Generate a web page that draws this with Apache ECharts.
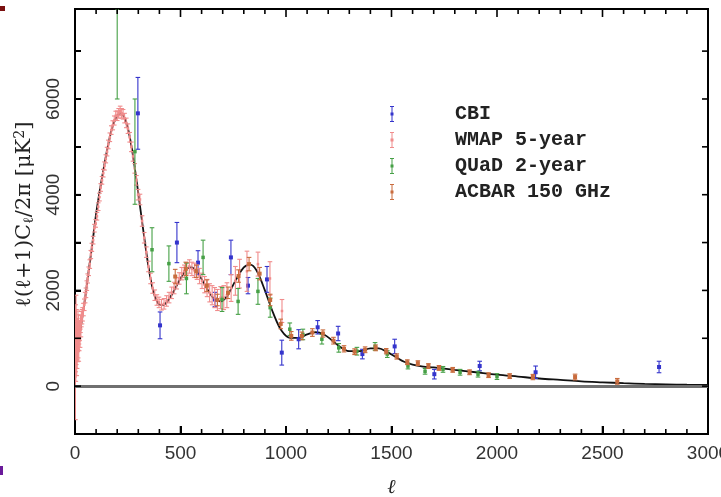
<!DOCTYPE html>
<html><head><meta charset="utf-8">
<script src="https://cdn.jsdelivr.net/npm/echarts@6/dist/echarts.min.js"></script>
<style>html,body{margin:0;padding:0;background:#fff}#c{width:721px;height:497px}</style>
</head><body><div id="c"></div>
<script>
// ---- tick labels ----
const xTicks = [0, 500, 1000, 1500, 2000, 2500, 3000];
const yTicks = [0, 2000, 4000, 6000];
// tick mark positions (major / minor)
const xMajorTicks = [0, 500, 1000, 1500, 2000, 2500, 3000];
const xMinorTicks = [100,200,300,400,600,700,800,900,1100,1200,1300,1400,1600,1700,1800,1900,2100,2200,2300,2400,2600,2700,2800,2900];
const yTickMarks = [-1000, 0, 1000, 2000, 3000, 4000, 5000, 6000, 7000];

// ---- theory curve ----
const theoryL = [2,10,20,30,40,50,60,70,80,90,100,120,140,160,180,200,215,230,250,270,290,310,330,350,370,390,410,430,460,500,530,550,580,620,660,690,720,760,800,830,860,900,940,980,1020,1060,1100,1140,1180,1220,1260,1300,1350,1400,1440,1480,1520,1560,1600,1650,1700,1800,1900,2000,2100,2200,2300,2400,2500,2600,2700,2800,2900,3000];
const theoryV = [1050,950,1050,1300,1600,1900,2250,2580,2900,3250,3600,4150,4650,5100,5450,5650,5700,5650,5400,4950,4350,3700,3050,2450,2000,1760,1690,1730,1920,2250,2450,2480,2380,2080,1820,1770,1880,2200,2480,2540,2420,2000,1520,1150,1010,1010,1080,1130,1080,950,810,730,730,790,790,710,610,510,450,410,390,340,290,240,200,160,130,100,80,62,48,38,30,24];

// ---- CBI ----
const cbiL = [298,403,483,583,663,739,820,910,980,1060,1150,1247,1362,1515,1703,1918,2183,2768];
const cbiV = [5700,1270,3000,2580,1810,2690,2100,2230,700,980,1230,1100,670,830,250,420,290,400];
const cbiE = [750,280,420,250,150,360,170,270,260,200,140,150,100,150,100,100,130,120];

// ---- WMAP 5-year ----
const wmapL = [2,3,4,5,6,7,8,9,10,11,12,13,14,15,16,17,18,19,20,22,24,26,28,30,33,36,40,44,48,52,56,60,65,70,75,80,86,92,98,104,110,116,122,128,134,140,146,152,158,165,172,179,186,193,200,207,214,221,228,235,243,251,259,267,275,283,291,299,308,318,328,338,348,358,368,378,388,398,410,422,434,446,458,470,482,494,506,518,530,542,554,566,578,590,602,614,626,638,650,662,675,690,705,720,740,760,780,815,867,924,981];
const wmapV = [200,1000,700,1400,900,1200,600,900,700,1100,800,1000,1300,850,1000,1250,750,1100,950,1150,1000,1300,1200,1400,1450,1500,1600,1700,1850,1950,2100,2250,2400,2550,2750,2900,3050,3300,3400,3550,3750,3950,4150,4300,4450,4600,4750,4900,5050,5200,5350,5450,5550,5650,5650,5700,5750,5700,5680,5600,5500,5380,5200,5000,4800,4550,4300,4000,3900,3450,3100,2800,2500,2250,2050,1900,1800,1750,1700,1720,1780,1850,1950,2050,2150,2250,2350,2400,2450,2500,2450,2420,2380,2300,2200,2120,2050,1950,1900,1850,1800,1850,1850,1900,2050,2200,2350,2400,2550,2250,1570];
const wmapE = [900,700,600,500,450,400,380,350,330,310,290,280,270,260,250,240,230,220,210,200,190,180,170,160,150,140,130,120,110,100,100,95,90,90,85,85,80,80,80,80,80,80,80,80,80,85,85,90,90,90,90,95,95,95,100,100,100,100,100,100,100,100,100,100,100,100,100,110,110,110,110,110,110,110,110,110,110,110,110,110,110,110,120,120,120,120,130,130,130,140,140,150,150,160,160,170,180,190,200,210,220,230,250,260,280,300,300,420,250,350,240];

// ---- QUaD 2-year ----
const quadL = [200,284,365,445,528,607,697,773,867,925,1018,1080,1170,1250,1336,1422,1480,1578,1659,1744,1825,1910,2000];
const quadV = [7900,4900,2850,2560,2250,2690,1810,1770,1980,1640,1190,1080,980,800,730,830,670,420,310,350,290,250,200];
const quadE = [1900,1100,460,370,320,360,250,270,270,200,130,110,100,90,80,80,70,60,60,60,60,60,60];

// ---- ACBAR 150 GHz ----
const acbarL = [475,525,575,625,675,725,775,825,875,925,975,1025,1075,1125,1175,1225,1275,1325,1375,1425,1475,1525,1575,1625,1675,1725,1790,1870,1960,2060,2170,2370,2570];
const acbarV = [2290,2450,2400,2100,1800,1950,2300,2550,2350,1800,1300,1050,1050,1120,1100,950,780,720,760,800,730,620,500,480,420,380,340,290,230,210,190,190,100];
const acbarE = [150,140,130,120,120,120,130,140,130,120,100,90,80,80,75,70,65,60,60,60,55,55,50,50,50,50,50,50,50,50,55,60,60];

const names = ['CBI', 'WMAP 5-year', 'QUaD 2-year', 'ACBAR 150 GHz'];
const colors = ['#3434cc', '#f08c8c', '#46a046', '#c96c3e'];
const dotSize = [4, 2.5, 3.5, 4];

function zip3(a, b, c) { return a.map((v, i) => [v, b[i], c[i]]); }

function errItem(color, ds) {
  return function (params, api) {
    const x = api.value(0), y = api.value(1), e = api.value(2);
    const p = api.coord([x, y]);
    const hi = api.coord([x, y + e]);
    const lo = api.coord([x, y - e]);
    const cw = 2.3;
    const st = { stroke: color, lineWidth: 1.1 };
    return {
      type: 'group',
      children: [
        { type: 'line', shape: { x1: p[0], y1: hi[1], x2: p[0], y2: lo[1] }, style: st },
        { type: 'line', shape: { x1: p[0] - cw, y1: hi[1], x2: p[0] + cw, y2: hi[1] }, style: st },
        { type: 'line', shape: { x1: p[0] - cw, y1: lo[1], x2: p[0] + cw, y2: lo[1] }, style: st },
        { type: 'rect', shape: { x: p[0] - ds / 2, y: p[1] - ds / 2, width: ds, height: ds }, style: { fill: color } }
      ]
    };
  };
}

// inward tick marks on all four sides, as small filled bars placed through the axes' scales
function xTickItem(params, api) {
  const cs = params.coordSys;
  const px = api.coord([api.value(0), 0])[0];
  const len = api.value(2);
  const top = cs.y, bot = cs.y + cs.height;
  return { type: 'group', children: [
    { type: 'rect', shape: { x: px - 0.8, y: bot - len, width: 1.6, height: len }, style: { fill: '#000' } },
    { type: 'rect', shape: { x: px - 0.8, y: top, width: 1.6, height: len }, style: { fill: '#000' } }
  ] };
}
function yTickItem(params, api) {
  const cs = params.coordSys;
  const py = api.coord([0, api.value(1)])[1];
  const len = api.value(2);
  const l = cs.x, r = cs.x + cs.width;
  return { type: 'group', children: [
    { type: 'rect', shape: { x: l, y: py - 0.8, width: len, height: 1.6 }, style: { fill: '#000' } },
    { type: 'rect', shape: { x: r - len, y: py - 0.8, width: len, height: 1.6 }, style: { fill: '#000' } }
  ] };
}

const errIcon = 'path://M0,0H4V1H2.5V6.5H3.5V9.5H2.5V15H4V16H0V15H1.5V9.5H0.5V6.5H1.5V1H0Z';

const datasets = [zip3(cbiL, cbiV, cbiE), zip3(wmapL, wmapV, wmapE), zip3(quadL, quadV, quadE), zip3(acbarL, acbarV, acbarE)];
const drawOrder = [1, 2, 3, 0];

const series = [{
  type: 'line', name: 'theory', data: theoryL.map((l, i) => [l, theoryV[i]]),
  smooth: 0.35, showSymbol: false, symbol: 'none', z: 2,
  lineStyle: { color: '#111', width: 1.8 },
  markLine: {
    silent: true, symbol: 'none', label: { show: false },
    lineStyle: { color: '#707070', width: 3, type: 'solid' },
    data: [{ yAxis: 0 }]
  }
}];
drawOrder.forEach(i => {
  series.push({
    type: 'custom', name: names[i], data: datasets[i], clip: true, z: 3 + i,
    encode: { x: 0, y: 1 },
    itemStyle: { color: colors[i] },
    renderItem: errItem(colors[i], dotSize[i])
  });
});
series.push({
  type: 'custom', zlevel: 1, z: 100, clip: false,
  data: xMajorTicks.map(v => [v, 0, 8]).concat(xMinorTicks.map(v => [v, 0, 5])),
  encode: { x: 0, y: 1 }, renderItem: xTickItem
});
series.push({
  type: 'custom', zlevel: 1, z: 100, clip: false,
  data: yTickMarks.map(v => [0, v, 6]),
  encode: { x: 0, y: 1 }, renderItem: yTickItem
});

const axisLineStyle = { color: '#000', width: 2 };
const tickStyle = { color: '#000', width: 2 };

const option = {
  backgroundColor: '#fff',
  animation: false,
  grid: { left: 75, right: 13, top: 9, bottom: 63, outerBoundsMode: 'none', containLabel: false,
    show: true, borderColor: '#000', borderWidth: 2, backgroundColor: 'transparent' },
  legend: {
    data: names, orient: 'vertical', left: 390, top: 104, padding: 0,
    itemWidth: 4, itemHeight: 16, itemGap: 6, icon: errIcon,
    textStyle: { fontFamily: 'Liberation Mono', fontWeight: 'bold', fontSize: 20, color: '#222', padding: [0, 0, 0, 56] }
  },
  xAxis: {
    type: 'value', min: 0, max: 3000, interval: 500,
    name: 'ℓ', nameLocation: 'middle', nameGap: 44,
    nameTextStyle: { fontFamily: 'Liberation Serif', fontStyle: 'italic', fontSize: 20, color: '#222' },
    axisLine: { show: true, onZero: false, lineStyle: axisLineStyle },
    axisTick: { show: true, inside: true, length: 8, lineStyle: tickStyle },
    axisLabel: { fontFamily: 'Liberation Sans', fontSize: 19, color: '#333', margin: 10,
      formatter: v => (xTicks.indexOf(v) >= 0 ? String(v) : '') },
    splitLine: { show: false }
  },
  yAxis: {
    type: 'value', min: -1000, max: 7880, interval: 1000,
    name: '{a|ℓ(ℓ+1)C}{s|ℓ}{a|/2π [μK}{p|2}{a|]}', nameLocation: 'middle', nameGap: 34, nameRotate: 90,
    nameTextStyle: {
      color: '#222', padding: [0, 0, 0, 14],
      rich: {
        a: { fontFamily: 'DejaVu Serif', fontSize: 21, color: '#222' },
        s: { fontFamily: 'DejaVu Serif', fontSize: 14, color: '#222', verticalAlign: 'bottom', padding: [9, 0, 0, 0] },
        p: { fontFamily: 'DejaVu Serif', fontSize: 14, color: '#222', verticalAlign: 'top', padding: [0, 0, 9, 0] }
      }
    },
    axisLine: { show: true, onZero: false, lineStyle: axisLineStyle },
    axisTick: { show: true, inside: true, length: 6, lineStyle: tickStyle },
    axisLabel: { fontFamily: 'Liberation Sans', fontSize: 19, color: '#333', rotate: 90, margin: 12,
      formatter: v => (yTicks.indexOf(v) >= 0 ? String(v) : '') },
    splitLine: { show: false }
  },
  graphic: [
    { type: 'rect', left: 0, top: 6, shape: { width: 5, height: 5 }, style: { fill: '#7a1010' } },
    { type: 'rect', left: 0, top: 466, shape: { width: 3, height: 9 }, style: { fill: '#6a1a9a' } }
  ],
  series: series
};

const chart = echarts.init(document.getElementById('c'), null, { renderer: 'canvas' });
chart.setOption(option);
</script></body></html>
